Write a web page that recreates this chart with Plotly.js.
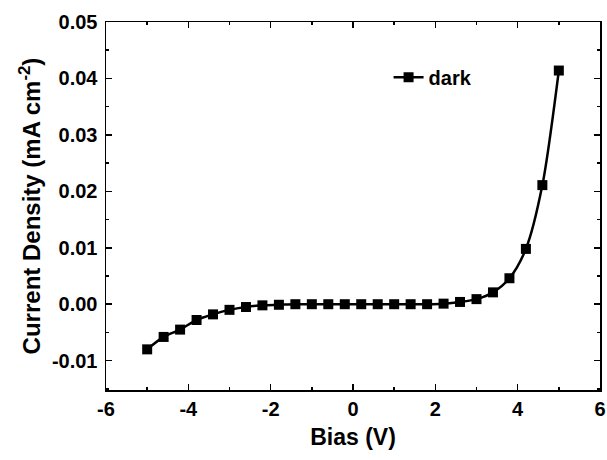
<!DOCTYPE html>
<html><head><meta charset="utf-8">
<script src="https://cdn.plot.ly/plotly-3.0.1.min.js"></script>
<style>body{margin:0;background:#fff}#c{width:607px;height:460px}</style>
</head><body><div id="c"></div>
<script>
const bias = [-5,-4.6,-4.2,-3.8,-3.4,-3.0,-2.6,-2.2,-1.8,-1.4,-1.0,-0.6,-0.2,0.2,0.6,1.0,1.4,1.8,2.2,2.6,3.0,3.4,3.8,4.2,4.6,5.0];
const dark = [-0.0080,-0.0058,-0.0045,-0.0028,-0.0018,-0.0010,-0.0005,-0.0002,-0.0001,0,0,0,0,0,0,0,0,0,0.0001,0.0004,0.0009,0.0021,0.0046,0.0098,0.0211,0.0414];
const xTickVals = [-6,-4,-2,0,2,4,6];
const xTickText = ['-6','-4','-2','0','2','4','6'];
const yTickVals = [-0.01,0,0.01,0.02,0.03,0.04,0.05];
const yTickText = ['-0.01','0.00','0.01','0.02','0.03','0.04','0.05'];
const FONT = 'Liberation Sans, Arial, sans-serif';
const bold = a => a.map(s => '<b>' + s + '</b>');
const trace = {x: bias, y: dark, name: '<b>dark</b>', type: 'scatter', mode: 'lines+markers',
  line: {color: '#000', width: 2.5, shape: 'spline', smoothing: 0.8},
  marker: {symbol: 'square', size: 10, color: '#000'}};
const axBase = {showgrid: false, zeroline: false, showline: true, mirror: 'ticks', linecolor: '#000', linewidth: 1.5,
  ticks: 'inside', ticklen: 6, tickwidth: 1.5, tickcolor: '#000', tickmode: 'array',
  tickfont: {family: FONT, size: 20, color: '#000'}};
const layout = {
  width: 607, height: 460, margin: {l: 106, r: 7, t: 22, b: 70},
  paper_bgcolor: '#fff', plot_bgcolor: '#fff', font: {family: FONT, color: '#000'},
  showlegend: true,
  legend: {x: 0.572, y: 0.85, xanchor: 'left', yanchor: 'middle', bgcolor: 'rgba(0,0,0,0)',
    font: {family: FONT, size: 20, color: '#000'}},
  xaxis: Object.assign({}, axBase, {range: [-6, 6], tickvals: xTickVals, ticktext: bold(xTickText),
    minor: {ticks: 'inside', ticklen: 3, tickwidth: 1.5, tickcolor: '#000', tickmode: 'linear', tick0: 0, dtick: 1},
    title: {text: '<b>Bias (V)</b>', font: {family: FONT, size: 23, color: '#000'}, standoff: 10}}),
  yaxis: Object.assign({}, axBase, {range: [-0.0152, 0.05], tickvals: yTickVals, ticktext: bold(yTickText),
    ticklabelstandoff: 3,
    minor: {ticks: 'inside', ticklen: 3, tickwidth: 1.5, tickcolor: '#000', tickmode: 'linear', tick0: 0, dtick: 0.005},
    title: {text: '<b>Current Density (mA cm<sup>-2</sup>)</b>', font: {family: FONT, size: 24, color: '#000'}, standoff: 4}})
};
Plotly.newPlot('c', [trace], layout, {displayModeBar: false, staticPlot: true});
</script></body></html>
